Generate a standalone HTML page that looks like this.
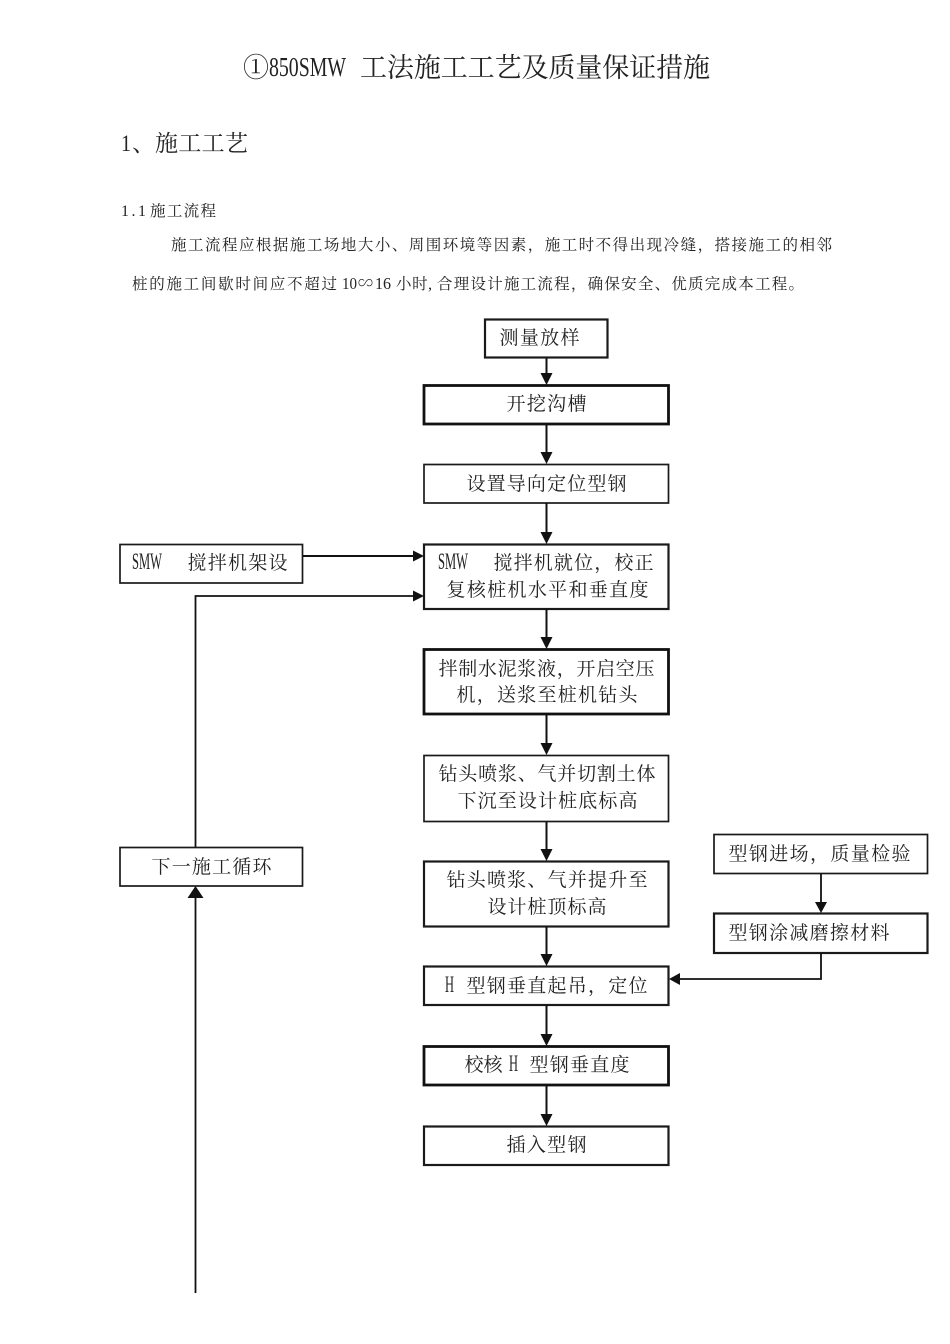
<!DOCTYPE html>
<html lang="zh">
<head>
<meta charset="utf-8">
<style>
html,body{margin:0;padding:0;background:#fff}
svg{display:block}
text{font-family:"Liberation Serif","Noto Serif CJK SC",serif;fill:#222}
.f{font-size:19px}
.b{font-size:15.5px}
.n{stroke:#1a1a1a;fill:#fff;stroke-width:1.7}
.t{stroke:#111;fill:#fff;stroke-width:2.8}
.l{stroke:#111;fill:none;stroke-width:2}
.a{fill:#111}
</style>
</head>
<body>
<svg width="950" height="1344" viewBox="0 0 950 1344" xmlns="http://www.w3.org/2000/svg">
<rect width="950" height="1344" fill="#fff"/>

<text x="243" y="77" font-size="27" textLength="26" lengthAdjust="spacingAndGlyphs">①</text>
<text x="269" y="76" font-size="27" textLength="77" lengthAdjust="spacingAndGlyphs">850SMW</text>
<text x="360" y="77" font-size="27" textLength="350">工法施工工艺及质量保证措施</text>

<text x="121" y="151" font-size="23" textLength="10" lengthAdjust="spacingAndGlyphs">1</text>
<text x="132" y="151" font-size="23">、</text>
<text x="155" y="151" font-size="23" textLength="93">施工工艺</text>

<text x="121" y="216" font-size="16" textLength="25" lengthAdjust="spacing">1.1</text>
<text x="150" y="216" class="b" textLength="66">施工流程</text>

<text x="171" y="250" class="b" textLength="661">施工流程应根据施工场地大小、周围环境等因素，施工时不得出现冷缝，搭接施工的相邻</text>
<text x="132" y="289" class="b" textLength="205">桩的施工间歇时间应不超过</text>
<text x="342" y="289" font-size="17" textLength="15" lengthAdjust="spacingAndGlyphs">10</text>
<text x="358" y="289" font-size="17" textLength="15" lengthAdjust="spacingAndGlyphs">∽</text>
<text x="375" y="289" font-size="17" textLength="16" lengthAdjust="spacingAndGlyphs">16</text>
<text x="396" y="289" class="b" textLength="36">小时,</text>
<text x="437" y="289" class="b" textLength="367">合理设计施工流程，确保安全、优质完成本工程。</text>

<!-- boxes -->
<rect class="n" x="485" y="319.5" width="122.5" height="38" style="stroke-width:2.2"/>
<rect class="t" x="424" y="385.5" width="244.5" height="38.5"/>
<rect class="n" x="424" y="464.5" width="244.5" height="38.5"/>
<rect class="n" x="424" y="544.5" width="244.5" height="64.5" style="stroke-width:2.2"/>
<rect class="t" x="424" y="649.5" width="244.5" height="64.5"/>
<rect class="n" x="424" y="755.5" width="244.5" height="66"/>
<rect class="n" x="424" y="861.5" width="244.5" height="65" style="stroke-width:2.2"/>
<rect class="n" x="424" y="966.5" width="244.5" height="38.5" style="stroke-width:2.2"/>
<rect class="t" x="424" y="1046.5" width="244.5" height="38.5"/>
<rect class="n" x="424" y="1126.5" width="244.5" height="38.5" style="stroke-width:2.2"/>
<rect class="n" x="120" y="544.5" width="182.5" height="38.5"/>
<rect class="n" x="120" y="847.5" width="182.5" height="38.5"/>
<rect class="n" x="714" y="834.5" width="213.5" height="39"/>
<rect class="n" x="714" y="913.5" width="213.5" height="39.5" style="stroke-width:2.2"/>

<!-- connectors -->
<path class="l" d="M546.5 358V376M546.5 424V455M546.5 503V535M546.5 609V640M546.5 714V746M546.5 822V852M546.5 927V957M546.5 1005V1037M546.5 1085V1117"/>
<g class="a">
<polygon points="540.5,373 552.5,373 546.5,385"/>
<polygon points="540.5,452 552.5,452 546.5,464"/>
<polygon points="540.5,532 552.5,532 546.5,544"/>
<polygon points="540.5,637 552.5,637 546.5,649"/>
<polygon points="540.5,743 552.5,743 546.5,755"/>
<polygon points="540.5,849 552.5,849 546.5,861"/>
<polygon points="540.5,954 552.5,954 546.5,966"/>
<polygon points="540.5,1034 552.5,1034 546.5,1046"/>
<polygon points="540.5,1114 552.5,1114 546.5,1126"/>
</g>
<path class="l" d="M303 556H416"/>
<polygon class="a" points="413,550.5 413,561.5 424,556"/>
<path class="l" style="stroke-width:1.8" d="M195.5 847V596H416"/>
<polygon class="a" points="413,590.5 413,601.5 424,596"/>
<path class="l" style="stroke-width:1.8" d="M195.5 1293V897"/>
<polygon class="a" points="187.5,898 203.5,898 195.5,886"/>
<path class="l" style="stroke-width:1.8" d="M821 874V904"/>
<polygon class="a" points="815,902 827,902 821,913"/>
<path class="l" style="stroke-width:1.8" d="M821 953V979H678"/>
<polygon class="a" points="680,973 680,985 669,979"/>

<!-- labels -->
<text class="f" x="499.5" y="344" textLength="80">测量放样</text>
<text class="f" x="506.5" y="410" textLength="80">开挖沟槽</text>
<text class="f" x="466.5" y="490" textLength="160">设置导向定位型钢</text>

<text x="132" y="569" font-size="23" textLength="30" lengthAdjust="spacingAndGlyphs">SMW</text>
<text class="f" x="187.5" y="569" textLength="100">搅拌机架设</text>

<text x="438" y="569" font-size="23" textLength="30" lengthAdjust="spacingAndGlyphs">SMW</text>
<text class="f" x="493.5" y="569" textLength="160">搅拌机就位，校正</text>
<text class="f" x="446.5" y="596" textLength="202">复核桩机水平和垂直度</text>

<text class="f" x="438.5" y="675" textLength="216">拌制水泥浆液，开启空压</text>
<text class="f" x="456.5" y="701" textLength="181">机，送浆至桩机钻头</text>

<text class="f" x="438.5" y="780" textLength="217">钻头喷浆、气并切割土体</text>
<text class="f" x="457.5" y="807" textLength="180">下沉至设计桩底标高</text>

<text class="f" x="446.5" y="886" textLength="201">钻头喷浆、气并提升至</text>
<text class="f" x="487.5" y="913" textLength="119">设计桩顶标高</text>

<text x="445" y="992" font-size="23" textLength="9" lengthAdjust="spacingAndGlyphs">H</text>
<text class="f" x="466.5" y="992" textLength="181">型钢垂直起吊，定位</text>

<text class="f" x="464.5" y="1071" textLength="38">校核</text>
<text x="509" y="1071" font-size="23" textLength="9" lengthAdjust="spacingAndGlyphs">H</text>
<text class="f" x="529.5" y="1071" textLength="100">型钢垂直度</text>

<text class="f" x="506.5" y="1151" textLength="80">插入型钢</text>

<text class="f" x="151.5" y="873" textLength="120">下一施工循环</text>
<text class="f" x="728.5" y="860" textLength="182">型钢进场，质量检验</text>
<text class="f" x="728.5" y="939" textLength="161">型钢涂减磨擦材料</text>
</svg>
</body>
</html>
